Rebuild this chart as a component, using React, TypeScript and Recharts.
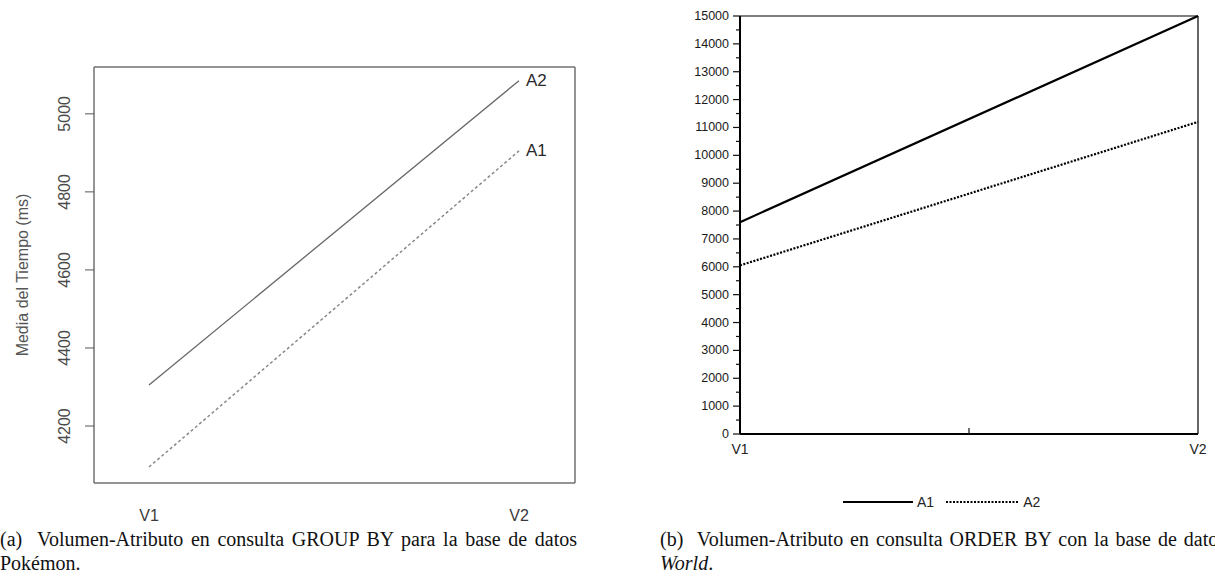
import React from 'react';
import { LineChart, Line, XAxis, YAxis, Legend, LabelList } from 'recharts';

// (a) GROUP BY, base de datos Pokémon
const groupCategories = ['V1', 'V2'];
const groupA1 = [4095, 4905];
const groupA2 = [4305, 5085];
const groupTicks = [4200, 4400, 4600, 4800, 5000];

// (b) ORDER BY, base de datos World
const orderPositions = [1, 2];
const orderLabels = ['V1', 'V2'];
const orderA1 = [7600, 15000];
const orderA2 = [6050, 11200];
const orderXTicks = [1, 1.5, 2];
const orderYTicks = [
  0, 500, 1000, 1500, 2000, 2500, 3000, 3500, 4000, 4500, 5000, 5500, 6000, 6500, 7000, 7500,
  8000, 8500, 9000, 9500, 10000, 10500, 11000, 11500, 12000, 12500, 13000, 13500, 14000, 14500, 15000,
];

const sans = '"Liberation Sans", Arial, sans-serif';
const serif = '"Liberation Serif", "Times New Roman", serif';

const groupData = groupCategories.map((name, i) => ({ name, A1: groupA1[i], A2: groupA2[i] }));
const orderData = orderPositions.map((pos, i) => ({ pos, A1: orderA1[i], A2: orderA2[i] }));

const GroupYTick = (props: any) => {
  const { x, y, payload } = props;
  return (
    <text x={x} y={y} transform={`rotate(-90 ${x} ${y})`} textAnchor="middle" fontSize={16} fontFamily={sans} fill="#4a4a4a">
      {payload.value}
    </text>
  );
};

const GroupXTick = (props: any) => {
  const { x, y, payload } = props;
  return (
    <text x={x} y={y + 38} textAnchor="middle" fontSize={16} fontFamily={sans} fill="#3a3a3a">
      {payload.value}
    </text>
  );
};

const endLabel = (props: any) => {
  const { x, y, index, name } = props;
  if (index !== 1) return null;
  return (
    <text x={x + 7} y={y} dominantBaseline="central" fontSize={17} fontFamily={sans} fill="#2a2a2a">
      {name}
    </text>
  );
};

const OrderYTick = (props: any) => {
  const { x, y, payload } = props;
  const major = payload.value % 1000 === 0;
  return (
    <g>
      <line x1={x - (major ? 7 : 4)} x2={x} y1={y} y2={y} stroke="#111" strokeWidth={1.2} />
      {major && (
        <text x={x - 11} y={y} dy={4} textAnchor="end" fontSize={12.5} fontFamily={sans} fill="#1a1a1a">
          {payload.value}
        </text>
      )}
    </g>
  );
};

const OrderXTick = (props: any) => {
  const { x, y, payload } = props;
  const idx = orderPositions.indexOf(payload.value);
  if (idx < 0) {
    return <line x1={x} x2={x} y1={y - 6} y2={y} stroke="#111" strokeWidth={1.2} />;
  }
  return (
    <text x={x} y={y + 20} textAnchor="middle" fontSize={14} fontFamily={sans} fill="#222">
      {orderLabels[idx]}
    </text>
  );
};

const OrderLegend = () => (
  <div style={{ display: 'flex', alignItems: 'center', fontFamily: sans, fontSize: 14, color: '#222' }}>
    <svg width={70} height={6}>
      <line x1={0} x2={70} y1={3} y2={3} stroke="#000" strokeWidth={2} />
    </svg>
    <span style={{ marginLeft: 4 }}>A1</span>
    <svg width={73} height={6} style={{ marginLeft: 12 }}>
      <line x1={0} x2={73} y1={3} y2={3} stroke="#000" strokeWidth={2} strokeDasharray="2 1.5" />
    </svg>
    <span style={{ marginLeft: 4 }}>A2</span>
  </div>
);

const captionLine = (width: number): React.CSSProperties => ({
  width,
  textAlign: 'justify',
  textAlignLast: 'justify',
  whiteSpace: 'nowrap',
});

export default function App() {
  return (
    <div style={{ position: 'absolute', left: 0, top: 0, width: 1215, height: 584, overflow: 'hidden', background: '#fff' }}>
      <div style={{ position: 'absolute', left: 0, top: 0 }}>
        <LineChart width={600} height={530} data={groupData} margin={{ top: 66, right: 24, bottom: 46, left: 0 }}>
          <XAxis
            dataKey="name"
            height={1}
            padding={{ left: 55, right: 56 }}
            axisLine={{ stroke: '#707070', strokeWidth: 1.5 }}
            tickLine={false}
            tickSize={0}
            tickMargin={0}
            tick={<GroupXTick />}
          />
          <XAxis xAxisId="top" orientation="top" type="number" domain={[0, 1]} height={1} tick={false} tickLine={false} axisLine={{ stroke: '#707070', strokeWidth: 1.5 }} />
          <YAxis
            width={94}
            domain={[4054, 5120]}
            ticks={groupTicks}
            allowDataOverflow
            axisLine={{ stroke: '#707070', strokeWidth: 1.5 }}
            tickLine={{ stroke: '#555' }}
            tickSize={9}
            tickMargin={15}
            tick={<GroupYTick />}
            label={{
              content: (p: any) => {
                const vb = p.viewBox;
                const cx = vb.x + 22;
                const cy = vb.y + vb.height / 2;
                return (
                  <text x={cx} y={cy} transform={`rotate(-90 ${cx} ${cy})`} textAnchor="middle" dominantBaseline="central" fontSize={16} fontFamily={sans} fill="#555">
                    Media del Tiempo (ms)
                  </text>
                );
              },
            }}
          />
          <YAxis yAxisId="right" orientation="right" type="number" domain={[0, 1]} width={1} tick={false} tickLine={false} axisLine={{ stroke: '#707070', strokeWidth: 1.5 }} />
          <Line dataKey="A2" name="A2" stroke="#666" strokeWidth={1.3} dot={false} isAnimationActive={false}>
            <LabelList dataKey="A2" content={(p: any) => endLabel({ ...p, name: 'A2' })} />
          </Line>
          <Line dataKey="A1" name="A1" stroke="#888" strokeWidth={1.5} strokeDasharray="3 2.5" dot={false} isAnimationActive={false}>
            <LabelList dataKey="A1" content={(p: any) => endLabel({ ...p, name: 'A1' })} />
          </Line>
        </LineChart>
      </div>

      <div style={{ position: 'absolute', left: 620, top: 0 }}>
        <LineChart width={595} height={520} data={orderData} margin={{ top: 15, right: 16, bottom: 85, left: 60 }}>
          <XAxis
            dataKey="pos"
            type="number"
            domain={[1, 2]}
            ticks={orderXTicks}
            interval={0}
            height={1}
            axisLine={{ stroke: '#000', strokeWidth: 2 }}
            tickLine={false}
            tickSize={0}
            tickMargin={0}
            tick={<OrderXTick />}
          />
          <XAxis xAxisId="top" orientation="top" type="number" domain={[0, 1]} height={1} tick={false} tickLine={false} axisLine={{ stroke: '#000', strokeWidth: 1.2 }} />
          <YAxis
            width={60}
            domain={[0, 15000]}
            ticks={orderYTicks}
            interval={0}
            axisLine={{ stroke: '#000', strokeWidth: 2 }}
            tickLine={false}
            tickSize={0}
            tickMargin={0}
            tick={<OrderYTick />}
          />
          <YAxis yAxisId="right" orientation="right" type="number" domain={[0, 1]} width={1} tick={false} tickLine={false} axisLine={{ stroke: '#000', strokeWidth: 1.2 }} />
          <Line dataKey="A1" name="A1" stroke="#000" strokeWidth={2.2} dot={false} isAnimationActive={false} />
          <Line dataKey="A2" name="A2" stroke="#000" strokeWidth={2.2} strokeDasharray="2 1.5" dot={false} isAnimationActive={false} />
          <Legend layout="horizontal" verticalAlign="middle" align="center" wrapperStyle={{ left: 223, top: 494, width: 'auto' }} content={<OrderLegend />} />
        </LineChart>
      </div>

      <div style={{ position: 'absolute', left: 0, top: 527, fontFamily: serif, fontSize: 20, lineHeight: '24px', color: '#111' }}>
        <div style={captionLine(577)}>(a)&nbsp; Volumen-Atributo en consulta GROUP BY para la base de datos</div>
        <div>Pokémon.</div>
      </div>
      <div style={{ position: 'absolute', left: 660, top: 527, fontFamily: serif, fontSize: 20, lineHeight: '24px', color: '#111' }}>
        <div style={captionLine(566)}>(b)&nbsp; Volumen-Atributo en consulta ORDER BY con la base de datos</div>
        <div>
          <i>World</i>.
        </div>
      </div>
    </div>
  );
}
